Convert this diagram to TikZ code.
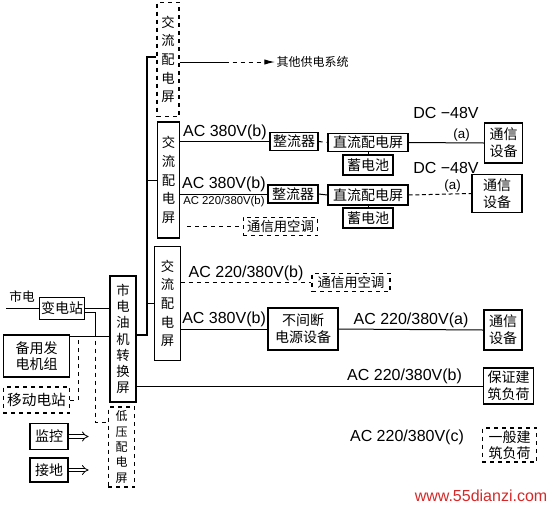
\documentclass[tikz,border=0pt]{standalone}
\usepackage{fontspec}
\setmainfont{Liberation Sans}
\newfontfamily\cjk{Noto Sans CJK SC}
\definecolor{webred}{RGB}{214, 40, 40}
\usetikzlibrary{arrows.meta, positioning, calc}
\tikzset{
	unit/.style={rectangle, draw, line width=0.9pt, inner sep=1pt, align=center, font=\cjk\fontsize{10.5}{12.5}\selectfont},
	dunit/.style={unit, dashed},
	panel/.style={unit, font=\cjk\fontsize{10}{14}\selectfont},
	volt/.style={inner sep=1pt, font=\fontsize{12}{14}\selectfont},
	tag/.style={inner sep=1pt, font=\fontsize{10}{12}\selectfont},
	link/.style={line width=0.75pt},
	dlink/.style={link, dashed},
	busline/.style={line width=1.5pt},
	hollow/.style={double, double distance=2pt, line width=0.6pt, -{Implies}},
}

\begin{document}
\begin{tikzpicture}[x=0.75pt, y=-0.75pt]
		\useasboundingbox (0,0) rectangle (553,508);
		% switch panels
		\node[panel, dashed, minimum width=16.5pt, minimum height=86pt] (ac1) at (168,59.5) {交\\流\\配\\电\\屏};
		\node[panel, minimum width=17pt, minimum height=87pt] (ac2) at (168.5,180) {交\\流\\配\\电\\屏};
		\node[panel, minimum width=19pt, minimum height=85pt] (ac3) at (167.5,303.5) {交\\流\\配\\电\\屏};
		\node[panel, line width=1.3pt, minimum width=19.5pt, minimum height=94.5pt, font=\cjk\fontsize{10}{12.2}\selectfont] (ats) at (123,339) {市\\电\\油\\机\\转\\换\\屏};
		\node[panel, dashed, minimum width=20pt, minimum height=60pt, font=\cjk\fontsize{9}{11.5}\selectfont] (lv) at (121.5,447) {低\\压\\配\\电\\屏};
		% sources
		\node[inner sep=1pt, font=\cjk\fontsize{9.5}{11}\selectfont] (mains) at (22,297) {市电};
		\node[unit, minimum width=34pt, minimum height=16pt] (bdz) at (62,308.5) {变电站};
		\coordinate (mainsin) at (6,308.5);
		\draw[link] (mainsin) -- (bdz.west);
		\draw[link, line width=1.1pt] (bdz.east) -- (bdz.east -| ats.west);
		\coordinate (drop) at ($(bdz.east)+(10,4)$);
		\draw[link] ($(bdz.east)+(0,4)$) -- (drop) -- ++(0,20) coordinate (drop2);
		\draw[dlink] (drop2) |- ($(lv.west)+(0,-25)$);
		\node[unit, minimum width=50pt, minimum height=31.5pt] (byfd) at (36.5,356) {备用发\\电机组};
		\coordinate (gen) at ($(byfd.north east)+(0,2)$);
		\draw[link, line width=1.1pt] (gen) -- (gen -| ats.west);
		\node[dunit, minimum width=50pt, minimum height=19.5pt, font=\cjk\fontsize{11}{13}\selectfont] (ydz) at (36.5,400) {移动电站};
		\draw[dlink] (ydz.east) -| ($(gen)+(8,0)$);
		\node[unit, minimum width=28.5pt, minimum height=20pt] (jk) at (49,436.5) {监控};
		\coordinate (jkout) at ($(jk.east)+(20,0)$);
		\draw[hollow] (jk.east) -- (jkout);
		\node[unit, minimum width=28.5pt, minimum height=18pt] (jd) at (49,470) {接地};
		\coordinate (jdout) at ($(jd.east)+(20,0)$);
		\draw[hollow] (jd.east) -- (jdout);
		% bus
		\coordinate (bustop) at (147,57);
		\coordinate (busbot) at (147,335);
		\draw[busline] (ac1.west |- bustop) -- (bustop) -- (busbot) -- (busbot -| ats.east);
		\draw[link] (ac2.west) -- (ac2.west -| bustop);
		\draw[link] (ac3.west) -- (ac3.west -| bustop);
		% other systems
		\node[anchor=west, inner sep=1pt, font=\cjk\fontsize{9}{11}\selectfont] (other) at (275,62) {其他供电系统};
		\draw[link] (ac1.east |- other) -- ++(45,0) coordinate (ot1);
		\draw[dlink, -{Latex[length=8pt, width=4pt]}] (ot1) -- (other.west);
		% DC row 1
		\node[unit, minimum width=36pt, minimum height=13pt] (zlq1) at (294,141.5) {整流器};
		\node[unit, minimum width=60pt, minimum height=14pt] (zlpd1) at (368,142.5) {直流配电屏};
		\node[unit, minimum width=37.5pt, minimum height=15pt] (xdc1) at (368,165) {蓄电池};
		\node[unit, minimum width=28pt, minimum height=30pt] (txsb1) at (503.5,143) {通信\\设备};
		\draw[link] (ac2.east |- zlq1) -- node[volt, above] {AC 380V(b)} (zlq1.west);
		\draw[dlink] (zlq1.east) -- (zlpd1.west);
		\draw[dlink] (zlpd1.south) -- (xdc1.north);
		\draw[link] (zlpd1.east) -- node[tag, above, pos=0.7] {(a)} (txsb1.west);
		\node[volt] (dc1) at (446,113) {DC −48V};
		% DC row 2
		\node[unit, minimum width=37.5pt, minimum height=13.5pt] (zlq2) at (293,194) {整流器};
		\node[unit, minimum width=60pt, minimum height=15pt] (zlpd2) at (368,195) {直流配电屏};
		\node[unit, minimum width=37.5pt, minimum height=15pt] (xdc2) at (368,218) {蓄电池};
		\node[unit, minimum width=37.5pt, minimum height=28pt] (txsb2) at (497,193.5) {通信\\设备};
		\draw[link] (ac2.east |- zlq2) -- node[volt, above] {AC 380V(b)} node[tag, below, font=\fontsize{8.5}{10}\selectfont] {AC 220/380V(b)} (zlq2.west);
		\draw[link] (zlq2.east) -- (zlpd2.west);
		\draw[dlink] (zlpd2.south) -- (xdc2.north);
		\draw[link, densely dashed] (zlpd2.east) -- node[tag, above, pos=0.7] {(a)} (txsb2.west);
		\node[volt] (dc2) at (446,168) {DC −48V};
		\node[dunit, minimum width=56pt, minimum height=14pt, font=\cjk\fontsize{10}{12}\selectfont] (ktt1) at (280.5,226.5) {通信用空调};
		\coordinate (kt1s) at ($(ac2.east |- ktt1)+(7,0)$);
		\draw[dlink] (kt1s) -- (ktt1.west);
		% AC loads
		\node[dunit, minimum width=58.5pt, minimum height=14pt, font=\cjk\fontsize{10}{12}\selectfont] (ktt2) at (351,282.5) {通信用空调};
		\draw[dlink] (ac3.east |- ktt2) -- node[volt, above] {AC 220/380V(b)} (ktt2.west);
		\node[unit, minimum width=52.5pt, minimum height=31.5pt] (bjd) at (303,329) {不间断\\电源设备};
		\draw[link] (ac3.east |- bjd) -- node[volt, above] {AC 380V(b)} (bjd.west);
		\node[unit, minimum width=28.5pt, minimum height=30pt] (txsb3) at (503,330) {通信\\设备};
		\draw[link] (bjd.east) -- node[volt, above] {AC 220/380V(a)} (txsb3.west);
		\node[unit, minimum width=37pt, minimum height=27pt] (bzjz) at (508.5,386) {保证建\\筑负荷};
		\draw[link] (ats.east |- bzjz) -- node[volt, above, pos=0.773] {AC 220/380V(b)} (bzjz.west);
		\node[dunit, minimum width=41pt, minimum height=25.5pt] (ybjz) at (509.5,445) {一般建\\筑负荷};
		\node[volt] (acc) at (407,437) {AC 220/380V(c)};
		\node[inner sep=1pt, font=\fontsize{12}{14}\selectfont, text=webred] (site) at (481,496) {www.55dianzi.com};
	\end{tikzpicture}
\end{document}
